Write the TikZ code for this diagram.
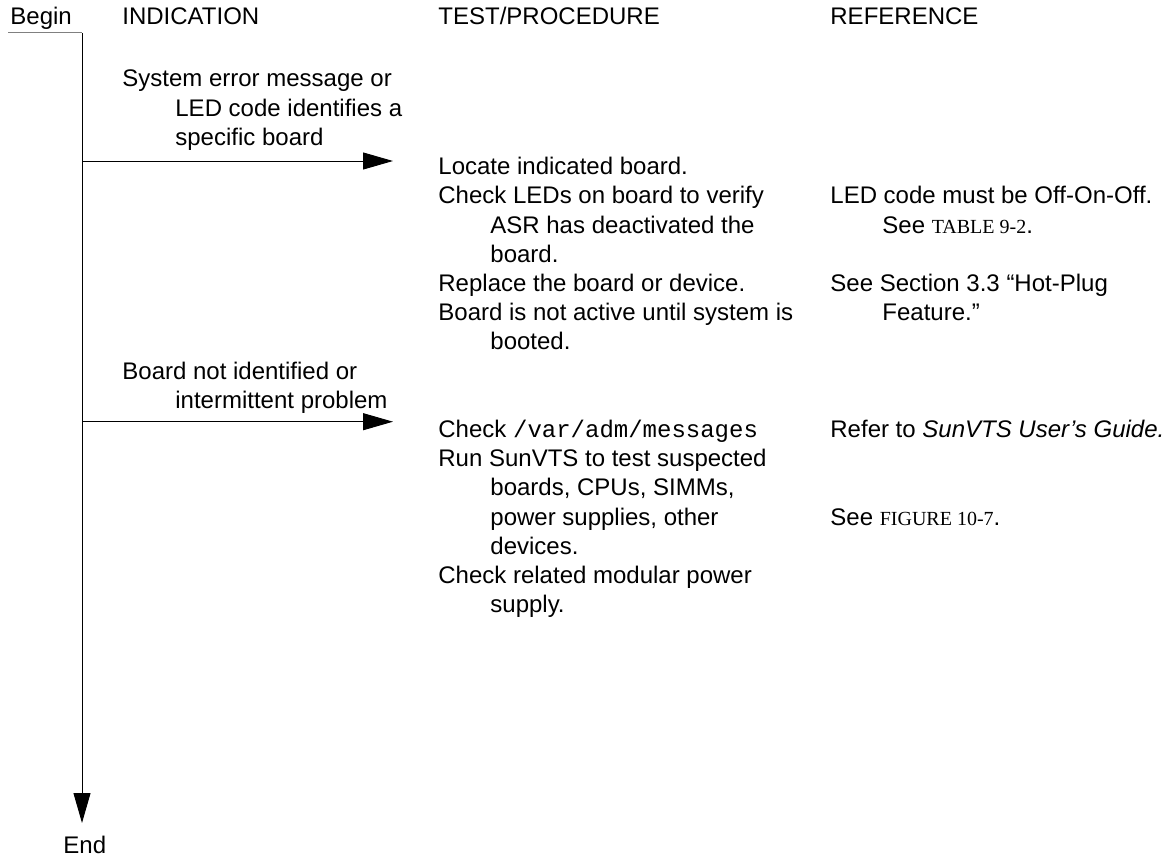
\documentclass[tikz,border=0pt]{standalone}
\usepackage{fontspec}
\setmainfont{Liberation Sans}
\setmonofont{Liberation Mono}
\newfontfamily\refserif{Liberation Serif}
\usetikzlibrary{arrows.meta,positioning}
\tikzset{
  ln/.style={anchor=base west, inner sep=0pt, font=\fontsize{12}{14}\selectfont},
  flw/.style={-{Triangle[length=15pt,width=8.5pt]}, line width=0.5pt},
  rule/.style={line width=0.5pt, black!50},
}
\newcommand{\xref}[1]{{\refserif\fontsize{10}{12}\selectfont #1}}

\begin{document}
\begin{tikzpicture}[x=0.5pt, y=-0.5pt]
  \useasboundingbox (0,0) rectangle (1170,856);
  % headings
  \node[ln] (begin) at (10,25) {Begin};
  \node[ln] (hind) at (122,25) {INDICATION};
  \node[ln] (htest) at (438,25) {TEST/PROCEDURE};
  \node[ln] (href) at (830,25) {REFERENCE};
  % time line
  \coordinate (ulft) at (8,33);
  \coordinate (sptop) at (82,33);
  \coordinate (spbot) at (82,823);
  \draw[rule] (ulft) -- (sptop);
  \draw[flw] (sptop) -- (spbot);
  \node[ln] (end) at (63,853) {End};
  % first indication
  \node[ln] (i1a) at (122,87) {System error message or};
  \node[ln] (i1b) at (175,116.2) {LED code identifies a};
  \node[ln] (i1c) at (175,145.4) {specific board};
  \coordinate (a1s) at (82,161);
  \coordinate (a1e) at (393,161);
  \draw[flw] (a1s) -- (a1e);
  \node[ln] (t1a) at (438,174.6) {Locate indicated board.};
  \node[ln] (t1b) at (438,203.8) {Check LEDs on board to verify};
  \node[ln] (t1c) at (490,233) {ASR has deactivated the};
  \node[ln] (t1d) at (490,262.2) {board.};
  \node[ln] (t1e) at (438,291.4) {Replace the board or device.};
  \node[ln] (t1f) at (438,320.6) {Board is not active until system is};
  \node[ln] (t1g) at (490,349.8) {booted.};
  \node[ln] (r1a) at (830,203.8) {LED code must be Off-On-Off.};
  \node[ln] (r1b) at (882,233) {See \xref{TABLE 9-2}.};
  \node[ln] (r1c) at (830,291.4) {See Section 3.3 “Hot-Plug};
  \node[ln] (r1d) at (882,320.6) {Feature.”};
  % second indication
  \node[ln] (i2a) at (122,379) {Board not identified or};
  \node[ln] (i2b) at (175,408.2) {intermittent problem};
  \coordinate (a2s) at (82,421.7);
  \coordinate (a2e) at (393,421.7);
  \draw[flw] (a2s) -- (a2e);
  \node[ln] (t2a) at (438,437.4) {Check \texttt{/var/adm/messages}};
  \node[ln] (t2b) at (438,466.6) {Run SunVTS to test suspected};
  \node[ln] (t2c) at (490,495.8) {boards, CPUs, SIMMs,};
  \node[ln] (t2d) at (490,525) {power supplies, other};
  \node[ln] (t2e) at (490,554.2) {devices.};
  \node[ln] (t2f) at (438,583.4) {Check related modular power};
  \node[ln] (t2g) at (490,612.6) {supply.};
  \node[ln] (r2a) at (830,437.4) {Refer to \textit{SunVTS User’s Guide.}};
  \node[ln] (r2b) at (830,525) {See \xref{FIGURE 10-7}.};
\end{tikzpicture}
\end{document}
